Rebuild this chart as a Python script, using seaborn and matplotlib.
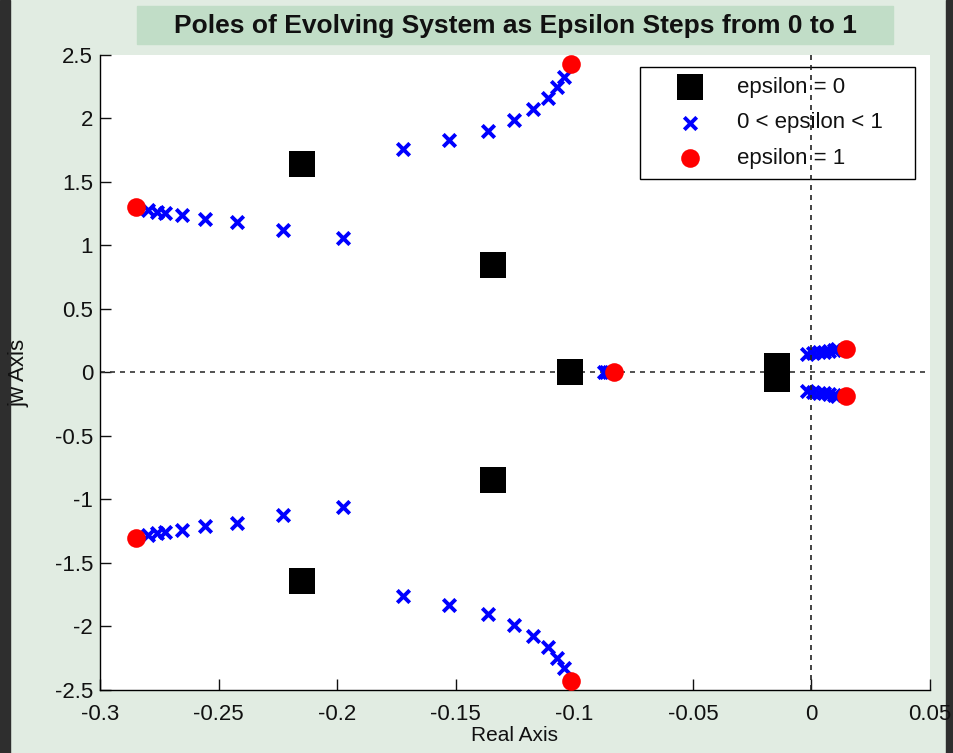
import numpy as np
import pandas as pd
import matplotlib
matplotlib.use("Agg")
import matplotlib.pyplot as plt
import seaborn as sns

# ====== Data ======
# epsilon = 0 poles
start_re = [-0.2148, -0.1343, -0.1018, -0.0146, -0.0146, -0.1343, -0.2148]
start_im = [1.642, 0.846, 0.0, 0.051, -0.051, -0.846, -1.642]

# 0 < epsilon < 1 poles (upper half; lower half is the mirror)
left_re = [-0.2796, -0.2758, -0.2726, -0.2656, -0.2557, -0.2424, -0.2230, -0.1977]
left_im = [1.280, 1.266, 1.258, 1.240, 1.209, 1.183, 1.122, 1.061]
mid_re = [-0.1721, -0.1527, -0.1365, -0.1253, -0.1173, -0.1112, -0.1074, -0.1042]
mid_im = [1.757, 1.831, 1.902, 1.988, 2.072, 2.159, 2.250, 2.329]
near_re = [-0.0020, 0.0005, 0.0030, 0.0055, 0.0075, 0.0095, 0.0110]
near_im = [0.145, 0.152, 0.158, 0.165, 0.170, 0.176, 0.182]
real_re = [-0.0875, -0.0865, -0.0855, -0.0845]
real_im = [0.0, 0.0, 0.0, 0.0]

# epsilon = 1 poles
end_re = [-0.2848, -0.1015, -0.0832, 0.0146, 0.0146, -0.1015, -0.2848]
end_im = [1.301, 2.429, 0.0, 0.188, -0.188, -2.429, -1.301]

x_ticks = [-0.3, -0.25, -0.2, -0.15, -0.1, -0.05, 0, 0.05]
x_labels = ["-0.3", "-0.25", "-0.2", "-0.15", "-0.1", "-0.05", "0", "0.05"]
y_ticks = [-2.5, -2, -1.5, -1, -0.5, 0, 0.5, 1, 1.5, 2, 2.5]
y_labels = ["-2.5", "-2", "-1.5", "-1", "-0.5", "0", "0.5", "1", "1.5", "2", "2.5"]

mid_all_re = left_re + mid_re + near_re
mid_all_im = left_im + mid_im + near_im
steps = pd.DataFrame({
    "re": mid_all_re + mid_all_re + real_re,
    "im": mid_all_im + [-v for v in mid_all_im] + real_im,
})
start = pd.DataFrame({"re": start_re, "im": start_im})
end = pd.DataFrame({"re": end_re, "im": end_im})

# ====== Style ======
sns.set_style("white")
plt.rcParams["font.family"] = ["Liberation Sans", "DejaVu Sans"]

bg = "#e1ece2"
fig = plt.figure(figsize=(9.54, 7.53), dpi=100, facecolor=bg)
ax = fig.add_axes([0.1048, 0.0837, 0.870, 0.8433])
ax.set_facecolor("white")

# dark border strips at the window edges (kept behind the axes and its labels)
fig.patches.append(plt.Rectangle((0, 0), 10 / 954, 1, transform=fig.transFigure,
                                 color="#2e2e2e", zorder=-1))
fig.patches.append(plt.Rectangle((946 / 954, 0), 8 / 954, 1, transform=fig.transFigure,
                                 color="#2e2e2e", zorder=-1))

# ====== Markers ======
sns.scatterplot(data=start, x="re", y="im", marker="s", s=340, color="black",
                edgecolor="black", linewidth=0, label="epsilon = 0", zorder=3, ax=ax)
sns.scatterplot(data=steps, x="re", y="im", marker="x", s=80, color="blue",
                linewidth=2.8, label="0 < epsilon < 1", zorder=4, ax=ax)
sns.scatterplot(data=end, x="re", y="im", marker="o", s=180, color="red",
                edgecolor="red", linewidth=0, label="epsilon = 1", zorder=5, ax=ax)

ax.axhline(0, color="#333333", linestyle=(0, (3, 3)), linewidth=1.2, zorder=2)
ax.axvline(0, color="#222222", linestyle=(0, (3, 3)), linewidth=1.2, zorder=7)

ax.set_xlim(-0.3, 0.05)
ax.set_ylim(-2.5, 2.5)
ax.set_xticks(x_ticks)
ax.set_xticklabels(x_labels)
ax.set_yticks(y_ticks)
ax.set_yticklabels(y_labels)
ax.tick_params(direction="in", length=8, width=1, labelsize=16, colors="#111111",
               left=True, bottom=True)
ax.tick_params(axis="x", pad=10)
ax.tick_params(axis="y", pad=5)

for side in ["top", "right"]:
    ax.spines[side].set_visible(False)
for side in ["left", "bottom"]:
    ax.spines[side].set_color("black")
    ax.spines[side].set_linewidth(1)

ax.set_xlabel("Real Axis", fontsize=15, labelpad=1, color="#111111")
ax.set_ylabel("jw Axis", fontsize=16, labelpad=18, color="#111111")

# title in its shaded box
fig.patches.append(plt.Rectangle((137 / 954, (753 - 44) / 753), 756 / 954, 38 / 753,
                                 transform=fig.transFigure, color="#c1ddc7", zorder=-1))
fig.text(515 / 954, (753 - 26) / 753,
         "Poles of Evolving System as Epsilon Steps from 0 to 1",
         ha="center", va="center", fontsize=19, fontweight="bold", color="#111111")

leg = ax.legend(loc="upper left", bbox_to_anchor=(0.6506, 0.5, 0.3313, 0.481),
                mode="expand", fontsize=16,
                frameon=True, fancybox=False, edgecolor="black", framealpha=1,
                borderpad=0.45, handlelength=3.6, handletextpad=0.3,
                labelspacing=0.65, markerscale=1.0, borderaxespad=0)
leg.get_frame().set_linewidth(1)
leg.set_zorder(6)
for t in leg.get_texts():
    t.set_color("#111111")

fig.savefig("out.png", dpi=100, facecolor=bg)
